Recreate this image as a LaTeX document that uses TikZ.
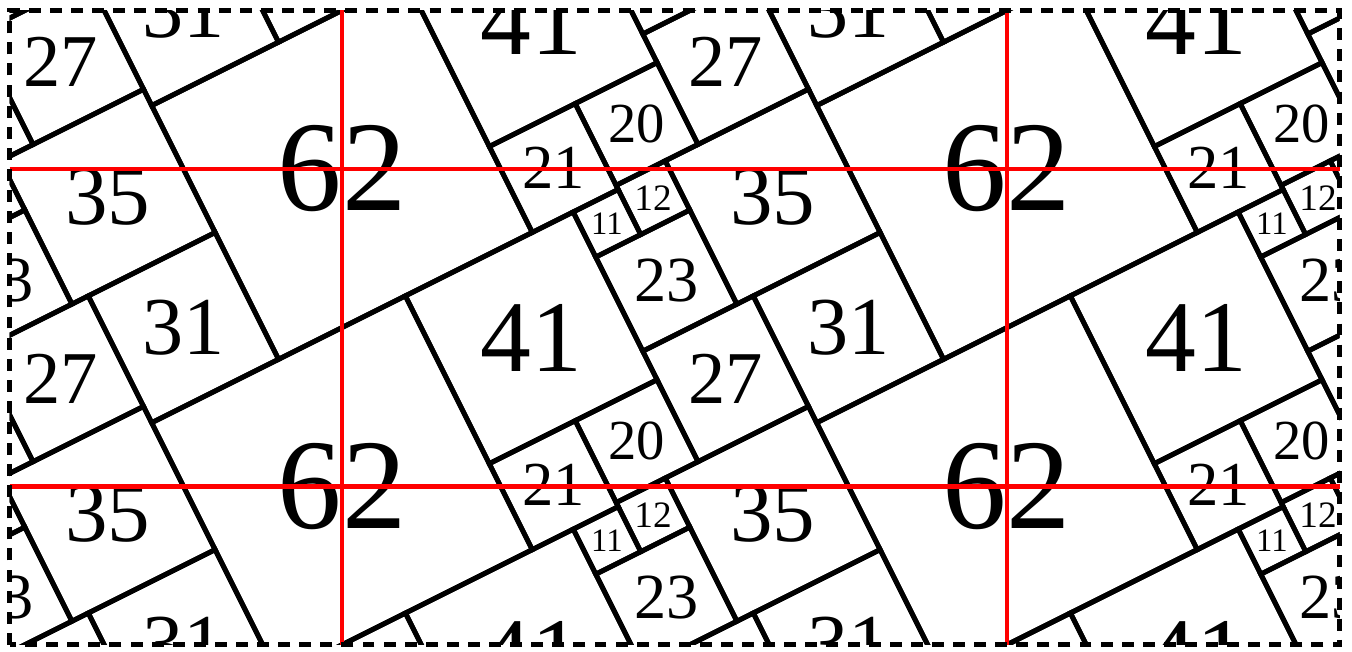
\documentclass[tikz,border=0pt]{standalone}
\usepackage{fontspec}
\setmainfont{Liberation Serif}
\usepackage{tikz}

\begin{document}
\begin{tikzpicture}[x=0.45755mm, y=0.45755mm,
  tile/.style={draw=black, line width=1.4pt},
  period/.style={draw=red, line width=1.4pt},
  frame/.style={draw=black, line width=1.4pt, dash pattern=on 3.4pt off 2.6pt}]
  \useasboundingbox (-74.75,-105.34) rectangle (220.74,36.94);
  \coordinate (sw) at (-72.67,-103.98);
  \coordinate (ne) at (218.02,34.66);
  % squares of one period, repeated over the lattice
  \begin{scope}
    \clip (sw) rectangle (ne);
    \foreach \m in {-1,...,2}{
      \foreach \n in {-2,...,1}{
        \begin{scope}[rotate=26.5651, shift={({130*\m+31*\n-31},{-65*\m+62*\n-31})}]
          \foreach \u/\w/\s/\f in {0/0/62/36.6, 31/-41/41/28.9, -35/31/35/24.2,
                                  -31/0/31/23.4, -27/66/27/21.2, 72/-34/23/18.3,
                                  62/0/21/17.8, 83/1/20/16.1, 83/-11/12/10.6, 72/-11/11/9.3}{
            \draw[tile] (\u,\w) rectangle ++(\s,\s);
            % label only where it can show in the window
            \pgfmathsetmacro\cx{145.34*\m+(2*(\u+\s/2)-(\w+\s/2)-31)/2.23607}
            \pgfmathsetmacro\cy{69.32*\n+((\u+\s/2)+2*(\w+\s/2)-93)/2.23607}
            \pgfmathparse{and(and(\cx>-88,\cx<233),and(\cy>-116,\cy<47))}
            \ifdim\pgfmathresult pt>0.5pt
              \node[font=\fontsize{\f}{\f}\selectfont] (sq-\m-\n-\s) at ({\u+\s/2},{\w+\s/2}) {\s};
            \fi
          }
        \end{scope}
      }
    }
  \end{scope}
  % period lattice
  \foreach \x in {0,145.34} \draw[period] (\x,-103.98) -- (\x,34.66);
  \foreach \y in {0,-69.32} \draw[period] (-72.67,\y) -- (218.02,\y);
  % window
  \draw[frame] (sw) rectangle (ne);
\end{tikzpicture}
\end{document}
